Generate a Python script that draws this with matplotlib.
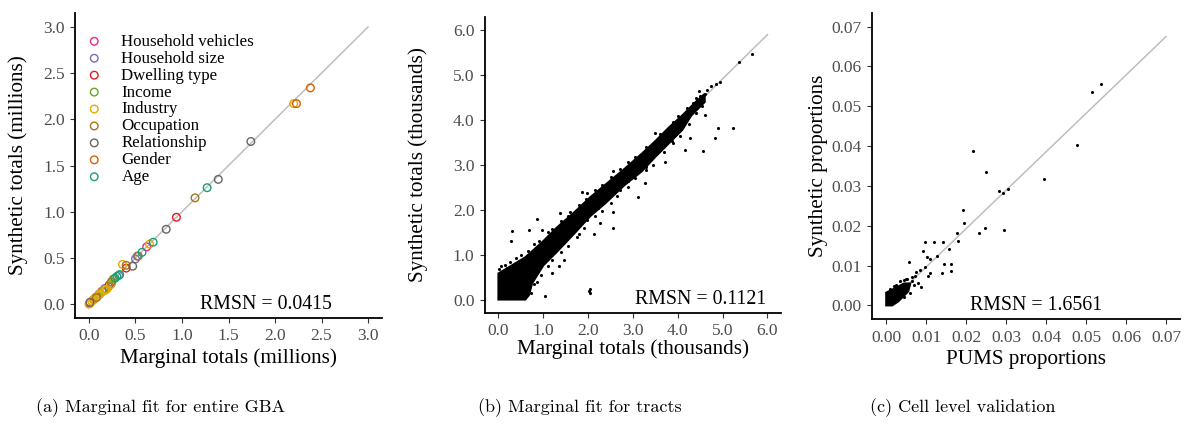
import matplotlib
matplotlib.use('Agg')
import matplotlib.pyplot as plt
import numpy as np

# ---- panel (a): marginal totals for entire GBA (millions) ----
categories = ['Household vehicles', 'Household size', 'Dwelling type', 'Income',
              'Industry', 'Occupation', 'Relationship', 'Gender', 'Age']
cat_colors = ['#E7298A', '#7570B3', '#E41A1C', '#66A61E',
              '#E6AB02', '#A6761D', '#666666', '#D95F02', '#1B9E77']

hv_x = [0.62, 0.21, 0.14, 0.05]
hv_y = [0.62, 0.19, 0.14, 0.05]
hs_x = [0.52, 0.50, 0.32, 0.17, 0.08]
hs_y = [0.52, 0.49, 0.31, 0.17, 0.08]
dw_x = [0.94, 0.40, 0.22, 0.01]
dw_y = [0.94, 0.39, 0.21, 0.01]
inc_x = [0.26, 0.15, 0.11, 0.24]
inc_y = [0.27, 0.14, 0.11, 0.22]
ind_x = [2.20, 0.65, 0.36, 0.23, 0.19, 0.10, 0.07, 0.05, 0.03, 0.0, 0.17, 0.12]
ind_y = [2.17, 0.65, 0.43, 0.21, 0.16, 0.09, 0.07, 0.05, 0.03, 0.0, 0.15, 0.11]
occ_x = [1.14, 0.53, 0.40, 0.24, 0.08]
occ_y = [1.15, 0.52, 0.42, 0.24, 0.07]
rel_x = [1.74, 1.39, 0.83, 0.47, 0.01]
rel_y = [1.76, 1.35, 0.81, 0.41, 0.02]
gen_x = [2.38, 2.23]
gen_y = [2.34, 2.17]
age_x = [1.27, 0.69, 0.57, 0.33, 0.30, 0.28]
age_y = [1.26, 0.67, 0.56, 0.32, 0.30, 0.28]

a_xs = [hv_x, hs_x, dw_x, inc_x, ind_x, occ_x, rel_x, gen_x, age_x]
a_ys = [hv_y, hs_y, dw_y, inc_y, ind_y, occ_y, rel_y, gen_y, age_y]
a_ticks = [0.0, 0.5, 1.0, 1.5, 2.0, 2.5, 3.0]

# ---- panel (b): marginal totals for tracts (thousands) ----
# solid core of the cloud, outline (upper edge then lower edge)
b_core_x = [0.0, 0.1, 0.3, 0.6, 1.0, 1.3, 1.7, 2.05, 2.4, 2.8, 3.2, 3.5, 3.8, 4.1, 4.4, 4.6,
            4.6, 4.3, 4.1, 3.8, 3.5, 3.2, 2.8, 2.4, 2.05, 1.7, 1.3, 1.0, 0.75, 0.68, 0.6, 0.0]
b_core_y = [0.58, 0.64, 0.76, 0.94, 1.30, 1.60, 1.95, 2.28, 2.57, 2.90, 3.25, 3.53, 3.83, 4.10, 4.40, 4.58,
            4.40, 4.10, 3.78, 3.48, 3.18, 2.86, 2.54, 2.16, 1.86, 1.48, 1.06, 0.76, 0.36, 0.10, 0.0, 0.0]
# scattered points: outliers plus the ragged edge of the cloud
b_pts_x = [5.65, 5.37, 4.93, 4.86, 4.75, 4.60, 5.22, 4.89, 4.82, 4.56, 4.15, 4.27, 4.12,
           3.97, 3.86, 3.71, 3.27, 3.12, 2.56, 2.56, 2.23, 2.56, 1.86, 1.97, 1.38, 0.86,
           0.68, 0.31, 0.27, 0.97, 1.03, 2.05, 2.05, 2.01, 1.46, 1.20, 1.35, 1.97, 2.27,
           2.12, 4.47, 4.61, 4.43, 4.34, 4.27, 4.41, 0.01, 0.05, 0.12, 0.20, 0.45, 0.55,
           0.80, 1.60, 2.40, 2.90, 3.50, 3.30, 2.70, 1.75, 0.95, 0.40,
           0.15, 0.25, 0.40, 0.50, 0.65, 0.80, 0.90, 1.10, 1.20, 1.40, 1.55, 1.80, 1.95,
           2.15, 2.30, 2.50, 2.70, 2.90, 3.05, 3.30, 3.60, 3.90, 4.00, 4.20, 4.50, 4.65,
           0.72, 0.85, 0.95, 1.10, 1.20, 1.40, 1.55, 1.80, 1.90, 2.15, 2.30, 2.50, 2.65,
           2.90, 3.05, 3.30, 3.45, 3.70, 3.90, 4.05, 4.25, 4.40, 4.55]
b_pts_y = [5.48, 5.28, 4.84, 4.81, 4.76, 4.10, 3.82, 3.83, 3.60, 3.30, 3.34, 3.60, 3.86,
           3.75, 3.53, 3.06, 2.59, 2.28, 1.95, 1.59, 2.04, 2.86, 2.40, 2.38, 1.93, 1.80,
           1.54, 1.52, 1.31, 1.55, 0.07, 0.23, 0.15, 0.19, 0.89, 0.59, 0.74, 1.78, 1.71,
           1.45, 4.64, 4.57, 4.45, 4.37, 4.22, 4.49, 0.67, 0.74, 0.60, 0.70, 0.85, 0.20,
           0.35, 1.95, 2.55, 2.65, 3.70, 2.95, 2.45, 1.40, 1.20, 0.10,
           0.76, 0.83, 0.93, 1.00, 1.08, 1.23, 1.30, 1.50, 1.58, 1.76, 1.86, 2.10, 2.23,
           2.43, 2.56, 2.73, 2.90, 3.06, 3.18, 3.40, 3.68, 3.96, 4.08, 4.26, 4.53, 4.66,
           0.15, 0.40, 0.55, 0.75, 0.88, 1.05, 1.20, 1.45, 1.60, 1.85, 1.98, 2.15, 2.30,
           2.50, 2.70, 2.88, 3.00, 3.28, 3.48, 3.65, 3.90, 4.15, 4.30]
b_ticks = [0.0, 1.0, 2.0, 3.0, 4.0, 5.0, 6.0]

# ---- panel (c): cell level validation (proportions) ----
c_core_x = [0.0, 0.0, 0.002, 0.0045, 0.006, 0.0055, 0.003, 0.0015]
c_core_y = [0.0, 0.0032, 0.0042, 0.0055, 0.0055, 0.0035, 0.001, 0.0]
c_pts_x = [0.0538, 0.0515, 0.0477, 0.0395, 0.0216, 0.0249, 0.0282, 0.0292, 0.0304, 0.0193,
           0.0195, 0.0295, 0.0247, 0.0233, 0.0176, 0.0179, 0.0157, 0.0141, 0.0120, 0.0097,
           0.0126, 0.0110, 0.0102, 0.0091, 0.0057, 0.0145, 0.0163, 0.0163, 0.0140, 0.0110,
           0.0105, 0.0088, 0.0097, 0.0072, 0.0064, 0.0052, 0.0044, 0.0050, 0.0065, 0.0070,
           0.0040, 0.0075, 0.0085, 0.0080, 0.0035, 0.0025, 0.0010, 0.0020, 0.0060, 0.0045]
c_pts_y = [0.0556, 0.0536, 0.0403, 0.0318, 0.0388, 0.0336, 0.0288, 0.0281, 0.0292, 0.0240,
           0.0206, 0.0189, 0.0195, 0.0183, 0.0182, 0.0161, 0.0142, 0.0159, 0.0158, 0.0158,
           0.0123, 0.0117, 0.0121, 0.0136, 0.0110, 0.0103, 0.0105, 0.0086, 0.0082, 0.0081,
           0.0074, 0.0046, 0.0096, 0.0075, 0.0072, 0.0067, 0.0063, 0.0065, 0.0060, 0.0050,
           0.0050, 0.0085, 0.0090, 0.0055, 0.0060, 0.0050, 0.0040, 0.0048, 0.0030, 0.0022]
c_ticks = [0.00, 0.01, 0.02, 0.03, 0.04, 0.05, 0.06, 0.07]

rmsn_a = 'RMSN = 0.0415'
rmsn_b = 'RMSN = 0.1121'
rmsn_c = 'RMSN = 1.6561'
captions = ['(a) Marginal fit for entire GBA', '(b) Marginal fit for tracts',
            '(c) Cell level validation']

serif = 'Liberation Serif'
tick_col = '#4D4D4D'

fig = plt.figure(figsize=(11.89, 4.24), dpi=100)
ax_a = fig.add_axes([0.0631, 0.25, 0.2582, 0.7193])
ax_b = fig.add_axes([0.4079, 0.2618, 0.2489, 0.6988])
ax_c = fig.add_axes([0.7336, 0.2469, 0.2588, 0.7231])


def style(ax, ticks, fmt, lim):
    ax.set_xlim(lim)
    ax.set_ylim(lim)
    ax.set_xticks(ticks)
    ax.set_yticks(ticks)
    ax.set_xticklabels([fmt % t for t in ticks])
    ax.set_yticklabels([fmt % t for t in ticks])
    for s in ['top', 'right']:
        ax.spines[s].set_visible(False)
    for s in ['left', 'bottom']:
        ax.spines[s].set_linewidth(1.3)
    ax.tick_params(length=3.5, width=0.8, color='#333333', pad=4,
                   labelsize=12.5, labelcolor=tick_col)
    for lab in ax.get_xticklabels() + ax.get_yticklabels():
        lab.set_family(serif)


# (a)
ax_a.plot([0, 3], [0, 3], color='#BEBEBE', lw=1.1, zorder=1)
for name, col, xs, ys in zip(categories, cat_colors, a_xs, a_ys):
    ax_a.scatter(xs, ys, s=30, facecolors='none', edgecolors=col, linewidths=1.0,
                 label=name, zorder=2)
style(ax_a, a_ticks, '%.1f', (-0.15, 3.15))
ax_a.set_xlabel('Marginal totals (millions)', family=serif, fontsize=15.2)
ax_a.set_ylabel('Synthetic totals (millions)', family=serif, fontsize=15.2)
ax_a.xaxis.set_label_coords(0.5, -0.10)
ax_a.yaxis.set_label_coords(-0.153, 0.5)
ax_a.text(1.9, 0.0, rmsn_a, family=serif, fontsize=14.3, ha='center', va='center')
leg = ax_a.legend(loc='upper left', bbox_to_anchor=(0.035, 0.932), frameon=False,
                  prop={'family': serif, 'size': 12.2}, handlelength=1.0,
                  handletextpad=1.1, labelspacing=0.055, borderpad=0, borderaxespad=0,
                  scatterpoints=1)

# (b)
ax_b.plot([0, 6], [0, 5.9], color='#BEBEBE', lw=1.1, zorder=1)
ax_b.fill(b_core_x, b_core_y, color='black', lw=1.5, ec='black', zorder=2)
ax_b.scatter(b_pts_x, b_pts_y, s=5, color='black', lw=0, zorder=3)
style(ax_b, b_ticks, '%.1f', (-0.3, 6.3))
ax_b.set_xlabel('Marginal totals (thousands)', family=serif, fontsize=15.2)
ax_b.set_ylabel('Synthetic totals (thousands)', family=serif, fontsize=15.2)
ax_b.xaxis.set_label_coords(0.5, -0.09)
ax_b.yaxis.set_label_coords(-0.193, 0.5)
ax_b.text(4.51, 0.0, rmsn_b, family=serif, fontsize=14.3, ha='center', va='center')

# (c)
ax_c.plot([0, 0.07], [0, 0.0675], color='#BEBEBE', lw=1.1, zorder=1)
ax_c.fill(c_core_x, c_core_y, color='black', lw=1.5, ec='black', zorder=2)
ax_c.scatter(c_pts_x, c_pts_y, s=5, color='black', lw=0, zorder=3)
style(ax_c, c_ticks, '%.2f', (-0.0035, 0.0735))
ax_c.set_xlabel('PUMS proportions', family=serif, fontsize=15.2)
ax_c.set_ylabel('Synthetic proportions', family=serif, fontsize=15.2)
ax_c.xaxis.set_label_coords(0.5, -0.10)
ax_c.yaxis.set_label_coords(-0.144, 0.5)
ax_c.text(0.0376, 0.0, rmsn_c, family=serif, fontsize=14.3, ha='center', va='center')

for xc, cap in zip([0.1346, 0.4878, 0.81], captions):
    fig.text(xc, 0.038, cap, family='cmr10', fontsize=13, ha='center', va='center')

fig.savefig('out.png', dpi=100)
